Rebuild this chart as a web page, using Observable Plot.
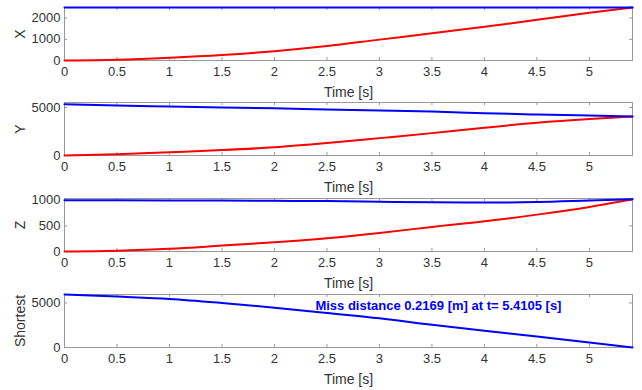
<!DOCTYPE html>
<html>
<head>
<meta charset="utf-8">
<script src="https://cdn.jsdelivr.net/npm/d3@7"></script>
<script src="https://cdn.jsdelivr.net/npm/@observablehq/plot@0.6"></script>
<style>
  html, body { margin: 0; padding: 0; background: #fff; }
  #chart { position: relative; width: 642px; height: 390px; background: #fff; font-family: "Liberation Sans", Arial, sans-serif; }
  #chart svg { position: absolute; left: 0; }
</style>
</head>
<body>
<div id="chart"></div>
<script>
// Engagement time samples [s]; the last one is the intercept time
const missTime = 5.4105;
const missDistance = 0.2169;
const time = [0, 0.5, 1, 1.5, 2, 2.5, 3, 3.5, 4, 4.5, 5, missTime];

// Missile (red) and target (blue) position components [m]
const missileX = [0, 35, 130, 260, 440, 680, 985, 1280, 1590, 1920, 2250, 2500];
const targetX  = [2500, 2500, 2500, 2500, 2500, 2500, 2500, 2500, 2500, 2500, 2500, 2500];
const missileY = [0, 130, 340, 560, 860, 1300, 1810, 2330, 2900, 3410, 3800, 4060];
const targetY  = [5340, 5220, 5100, 4990, 4930, 4790, 4690, 4580, 4400, 4270, 4160, 4060];
const missileZ = [0, 15, 52, 115, 180, 260, 362, 480, 590, 720, 870, 1020];
const targetZ  = [1000, 1000, 998, 995, 990, 985, 972, 960, 955, 965, 995, 1020];

// Shortest missile-target distance [m]
const shortest = [5945, 5710, 5450, 5000, 4470, 3870, 3270, 2550, 1880, 1240, 560, missDistance];

// Axis ticks
const timeTicks = [0, 0.5, 1, 1.5, 2, 2.5, 3, 3.5, 4, 4.5, 5];
const ticksX = [0, 1000, 2000];
const ticksY = [0, 5000];
const ticksZ = [0, 500, 1000];
const ticksShortest = [0, 5000];

// Axis extents
const domainX = [0, 2500];
const domainY = [0, 5520];
const domainZ = [0, 1035];
const domainShortest = [0, 5945];

// Annotation anchor (time, distance)
const noteTime = 2.39;
const noteValue = 4680;

const RED = "#ff0000", BLUE = "#0000ff", BOX = "#999", INK = "#333";
const W = 642, ML = 64, MR = 10, MT = 7, PH = 53;

function series(values) {
  return time.map((t, i) => ({t, v: values[i]}));
}

function panel({top, marginBottom, label, domain, ticks, lines, extra = []}) {
  const height = MT + PH + marginBottom;
  const PW = W - ML - MR;
  const svg = Plot.plot({
    width: W,
    height,
    marginLeft: ML,
    marginRight: MR,
    marginTop: MT,
    marginBottom,
    x: {domain: [0, missTime]},
    y: {domain},
    style: {fontFamily: '"Liberation Sans", Arial, sans-serif', fontSize: "13px", color: INK, background: "transparent", overflow: "visible"},
    marks: [
      Plot.frame({stroke: BOX}),
      // inward tick marks on all four sides
      Plot.tickX(timeTicks, {x: d => d, insetTop: PH - 3, stroke: BOX}),
      Plot.tickX(timeTicks, {x: d => d, insetBottom: PH - 3, stroke: BOX}),
      Plot.tickY(ticks, {y: d => d, insetRight: PW - 3, stroke: BOX}),
      Plot.tickY(ticks, {y: d => d, insetLeft: PW - 3, stroke: BOX}),
      Plot.axisX(timeTicks, {tickSize: 0, tickPadding: 6, tickFormat: d => String(d), label: null, fill: INK}),
      Plot.axisY(ticks, {tickSize: 0, tickPadding: 4, tickFormat: d => String(d), label: null, fill: INK}),
      Plot.text(["Time [s]"], {text: d => d, frameAnchor: "bottom", lineAnchor: "middle", textAnchor: "middle", dy: 32, fontSize: 14, fill: INK}),
      Plot.text([label], {text: d => d, frameAnchor: "left", lineAnchor: "middle", textAnchor: "middle", dx: -44, rotate: -90, fontSize: 14, fill: INK}),
      ...lines.map(([values, color]) => Plot.line(series(values), {x: "t", y: "v", stroke: color, strokeWidth: 2, curve: "monotone-x"})),
      ...extra
    ]
  });
  svg.style.top = top + "px";
  document.getElementById("chart").appendChild(svg);
}

panel({top: 0, marginBottom: 35, label: "X", domain: domainX, ticks: ticksX,
  lines: [[missileX, RED], [targetX, BLUE]]});
panel({top: 95, marginBottom: 35, label: "Y", domain: domainY, ticks: ticksY,
  lines: [[missileY, RED], [targetY, BLUE]]});
panel({top: 191, marginBottom: 35, label: "Z", domain: domainZ, ticks: ticksZ,
  lines: [[missileZ, RED], [targetZ, BLUE]]});
panel({top: 287, marginBottom: 43, label: "Shortest", domain: domainShortest, ticks: ticksShortest,
  lines: [[shortest, BLUE]],
  extra: [
    Plot.text([{t: noteTime, v: noteValue}], {
      x: "t", y: "v",
      text: () => `Miss distance ${missDistance} [m] at t= ${missTime} [s]`,
      textAnchor: "start", fill: BLUE, fontWeight: "bold", fontSize: 13
    })
  ]});
</script>
</body>
</html>
